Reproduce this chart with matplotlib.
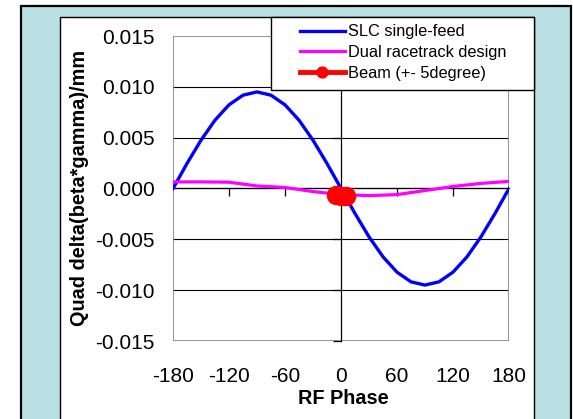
import matplotlib
matplotlib.use("Agg")
import matplotlib.pyplot as plt
from matplotlib.patches import Rectangle

# ============================================================
# Data
# ============================================================
phase = [-180, -165, -150, -135, -120, -105, -90, -75, -60, -45, -30, -15, 0,
         15, 30, 45, 60, 75, 90, 105, 120, 135, 150, 165, 180]
slc_single_feed = [0.0, 0.00246, 0.00475, 0.00672, 0.00823, 0.00918, 0.0095,
                   0.00918, 0.00823, 0.00672, 0.00475, 0.00246, 0.0,
                   -0.00246, -0.00475, -0.00672, -0.00823, -0.00918, -0.0095,
                   -0.00918, -0.00823, -0.00672, -0.00475, -0.00246, 0.0]

dual_phase = [-180, -150, -120, -90, -60, -30, 0, 30, 60, 90, 120, 150, 180]
dual_racetrack = [0.00065, 0.00065, 0.00062, 0.00025, 0.0001, -0.0003, -0.0006,
                  -0.0007, -0.0006, -0.0002, 0.0002, 0.0005, 0.0007]

beam_phase = [-5, 0, 5]
beam = [-0.00065, -0.0007, -0.0007]

x_ticks = [-180, -120, -60, 0, 60, 120, 180]
y_ticks = [-0.015, -0.010, -0.005, 0.0, 0.005, 0.010, 0.015]

W, H = 573, 419
BG_BLUE = "#b9dfe2"
FONT = "Liberation Sans"

plt.rcParams["font.family"] = [FONT, "DejaVu Sans"]

fig = plt.figure(figsize=(W / 100, H / 100), dpi=100)
fig.patch.set_facecolor("white")

# slide-like frame: blue panel + white chart area
def fx(px):
    return px / W

def fy(py):
    return 1 - py / H

fig.add_artist(Rectangle((fx(21), -0.1), fx(571) - fx(21), fy(6) + 0.1,
                         transform=fig.transFigure, facecolor=BG_BLUE,
                         edgecolor="black", linewidth=1.6, zorder=0))
fig.add_artist(Rectangle((fx(60), -0.1), fx(534) - fx(60), fy(17) + 0.1,
                         transform=fig.transFigure, facecolor="white",
                         edgecolor="black", linewidth=1.0, zorder=0))

ax = fig.add_axes([fx(173), fy(341), fx(509) - fx(173), fy(36) - fy(341)])
ax.set_facecolor("none")

ax.plot(phase, slc_single_feed, color="#0000ff", linewidth=2.4,
        label="SLC single-feed", zorder=3)
ax.plot(dual_phase, dual_racetrack, color="#ff00ff", linewidth=2.3,
        label="Dual racetrack design", zorder=3)
ax.plot(beam_phase, beam, color="#ff0000", linewidth=3.5, marker="o",
        markersize=13, label="Beam (+- 5degree)", zorder=4)

ax.set_xlim(-180, 180)
ax.set_ylim(-0.015, 0.015)

# horizontal gridlines
for yv in y_ticks[1:-1]:
    ax.axhline(yv, color="black", linewidth=0.8, zorder=1)

# axis lines through the origin with their tick marks
ax.spines["left"].set_position(("data", 0))
ax.spines["bottom"].set_position(("data", 0))
ax.spines["right"].set_visible(False)
ax.spines["top"].set_visible(False)
for s in ("left", "bottom"):
    ax.spines[s].set_color("black")
    ax.spines[s].set_linewidth(0.9)
    ax.spines[s].set_zorder(2)
ax.set_xticks([t for t in x_ticks if t not in (-180, 0, 180)])
ax.set_yticks(y_ticks)
ax.tick_params(axis="both", direction="out", length=6, width=0.9,
               labelbottom=False, labelleft=False, color="black")

# outer gray frame of the plot area
ax.add_patch(Rectangle((0, 0), 1, 1, transform=ax.transAxes, fill=False,
                       edgecolor="#808080", linewidth=1.2, zorder=2))

# tick labels at the plot edges
secx = ax.secondary_xaxis("bottom")
secx.set_xticks(x_ticks)
secx.set_xticklabels([str(t) for t in x_ticks])
secx.spines["bottom"].set_visible(False)
secx.tick_params(length=0, pad=19, labelsize=15)

secy = ax.secondary_yaxis("left")
secy.set_yticks(y_ticks)
secy.set_yticklabels([f"{t:.3f}" for t in y_ticks])
secy.spines["left"].set_visible(False)
secy.tick_params(length=0, pad=13, labelsize=15)

fig.text(fx(80), fy(188), "Quad delta(beta*gamma)/mm", rotation=90,
         ha="center", va="center", fontsize=14.3, fontweight="bold")
fig.text(fx(343), fy(398), "RF Phase", ha="center", va="center",
         fontsize=14.3, fontweight="bold")

# legend box (drawn separately so it can be wider than its contents)
fig.add_artist(Rectangle((fx(271), fy(90)), fx(534) - fx(271), fy(17) - fy(90),
                         transform=fig.transFigure, facecolor="white",
                         edgecolor="black", linewidth=1.0, zorder=5))
leg = ax.legend(loc="upper left", bbox_to_anchor=(fx(297), fy(21)),
                bbox_transform=fig.transFigure, borderaxespad=0,
                fontsize=11.8, frameon=False, markerscale=0.6,
                handlelength=2.7, handletextpad=0.2, labelspacing=0.36,
                borderpad=0.2)
leg.set_zorder(6)
fig.legends.append(leg)
ax.legend_ = None

fig.savefig("out.png", dpi=100)
